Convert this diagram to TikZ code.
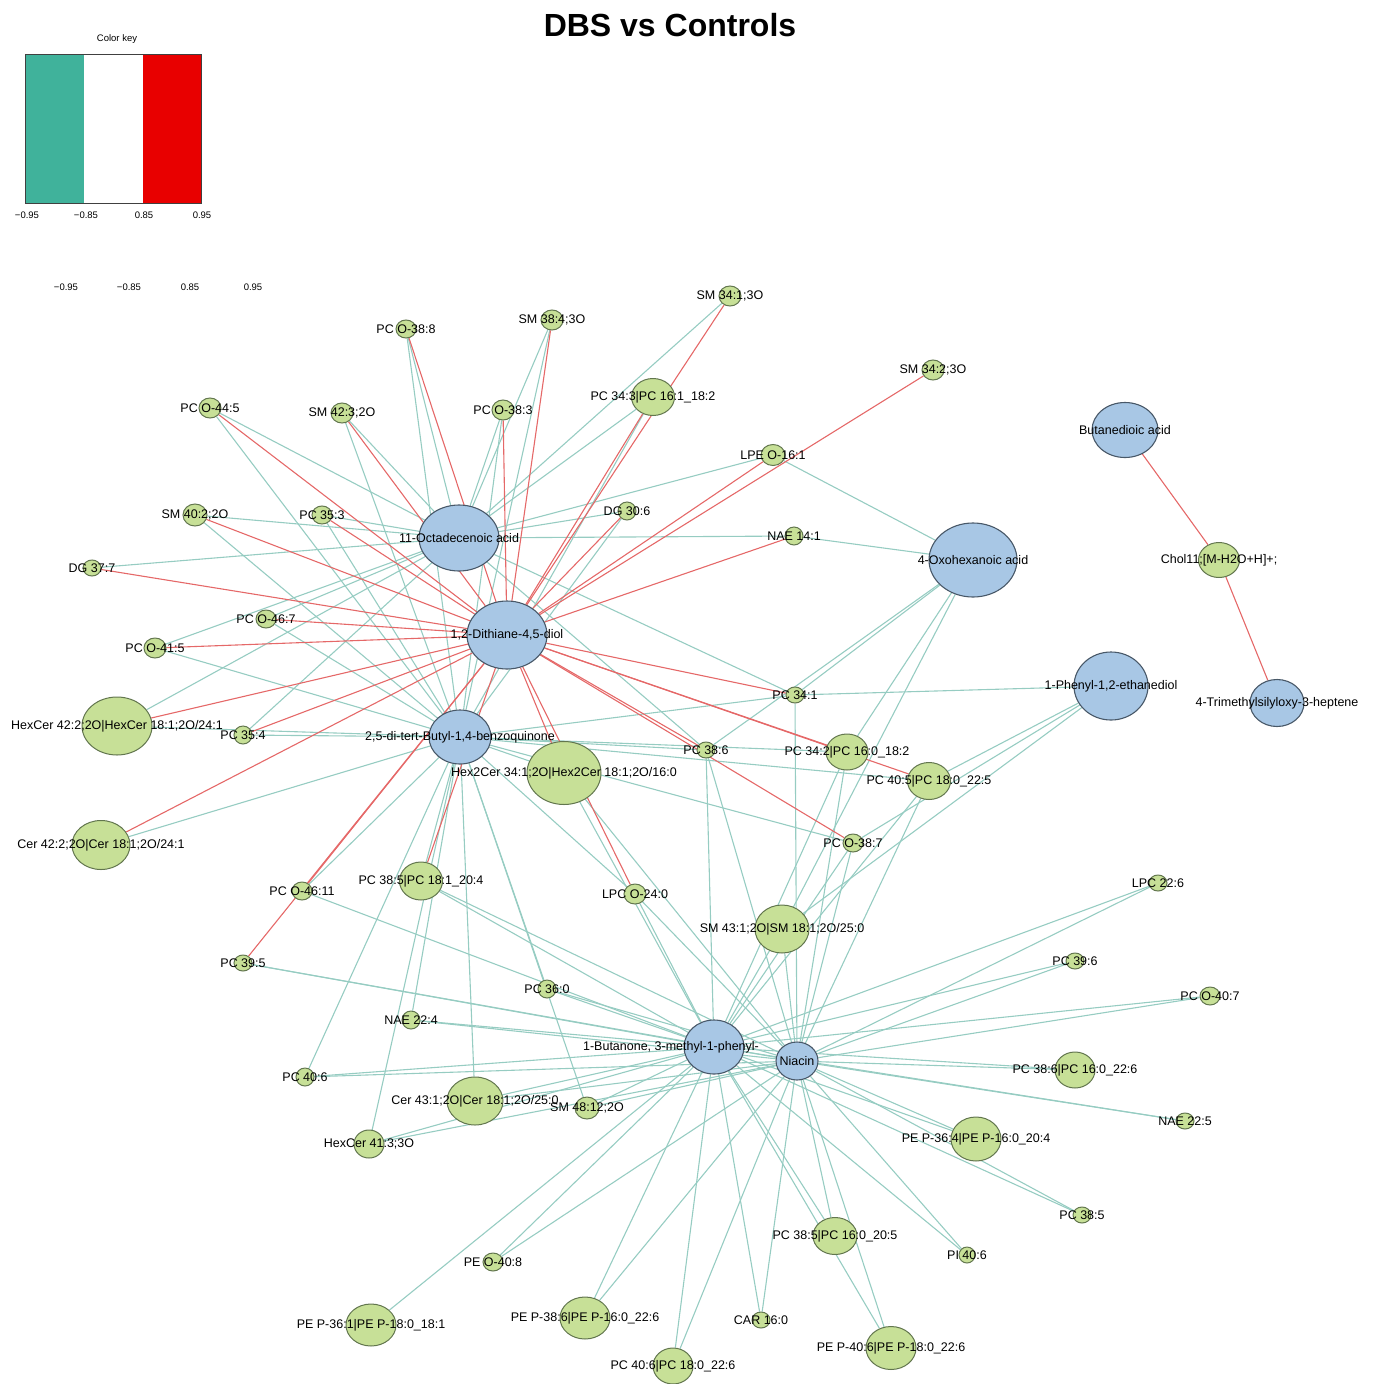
\documentclass[tikz,border=0pt]{standalone}
\usepackage{fontspec}
\setmainfont{Liberation Sans}
\usetikzlibrary{shapes.geometric}
\definecolor{metfill}{RGB}{168,199,229}
\definecolor{metline}{RGB}{72,88,104}
\definecolor{lipfill}{RGB}{199,224,151}
\definecolor{lipline}{RGB}{98,118,78}
\definecolor{edgeteal}{RGB}{150,204,194}
\definecolor{edgered}{RGB}{229,104,104}
\definecolor{keyteal}{RGB}{64,178,155}
\definecolor{keyred}{RGB}{232,0,0}
\pgfdeclarelayer{bg}
\pgfsetlayers{bg,main}

\begin{document}
\begin{tikzpicture}[x=1pt, y=-1pt,
  met/.style={ellipse, draw=metline, fill=metfill, line width=1.1pt, inner sep=0pt},
  lip/.style={ellipse, draw=lipline, fill=lipfill, line width=1pt, inner sep=0pt},
  wh/.style 2 args={minimum width=#1pt, minimum height=#2pt},
  tx/.style={font=\fontsize{12.5}{13}\selectfont, inner sep=0pt},
  keytx/.style={font=\fontsize{9.5}{11}\selectfont, inner sep=0pt},
  neglink/.style={draw=edgeteal, line width=1.1pt},
  poslink/.style={draw=edgered, line width=1.1pt}]
\useasboundingbox (0,0) rectangle (1373,1384);

% title and colour key
\node[font=\bfseries\fontsize{32}{36}\selectfont] (title) at (670,25) {DBS vs Controls};
\node[keytx] (keyname) at (117,39) {Color key};
\fill[keyteal] (25,54) rectangle (84,203);
\fill[keyred] (143,54) rectangle (201,203);
\draw[black!75, line width=1pt] (25,54) rectangle (201,203);
\node[keytx] (k1) at (27,215) {−0.95};
\node[keytx] (k2) at (86,215) {−0.85};
\node[keytx] (k3) at (144,215) {0.85};
\node[keytx] (k4) at (202,215) {0.95};
\node[keytx] (m1) at (66,287) {−0.95};
\node[keytx] (m2) at (129,287) {−0.85};
\node[keytx] (m3) at (190,287) {0.85};
\node[keytx] (m4) at (253,287) {0.95};

% metabolites
\node[met, wh={80}{66}, label={[tx]center:{11-Octadecenoic acid}}] (oa) at (459,538) {};
\node[met, wh={80}{68}, label={[tx]center:{1,2-Dithiane-4,5-diol}}] (dt) at (507,635) {};
\node[met, wh={62}{54}, label={[tx]center:{2,5-di-tert-Butyl-1,4-benzoquinone}}] (bq) at (460,737) {};
\node[met, wh={88}{74}, label={[tx]center:{4-Oxohexanoic acid}}] (ox) at (973,560) {};
\node[met, wh={66}{55}, label={[tx]center:{Butanedioic acid}}] (bda) at (1125,430) {};
\node[met, wh={74}{68}, label={[tx]center:{1-Phenyl-1,2-ethanediol}}] (ped) at (1111,686) {};
\node[met, wh={54}{47}, label={[tx]center:{4-Trimethylsilyloxy-3-heptene}}] (tms) at (1277,703) {};
\node[met, wh={60}{54}, label={[tx, xshift=-43pt]center:{1-Butanone, 3-methyl-1-phenyl-}}] (bu) at (714,1047) {};
\node[met, wh={42}{38}, label={[tx]center:{Niacin}}] (nia) at (797,1061) {};

% lipids
\node[lip, wh={22}{20}, label={[tx]center:{SM 34:1;3O}}] (sm341) at (730,296) {};
\node[lip, wh={22}{20}, label={[tx]center:{SM 38:4;3O}}] (sm384) at (552,320) {};
\node[lip, wh={20}{18}, label={[tx]center:{PC O-38:8}}] (pco388) at (406,329) {};
\node[lip, wh={22}{20}, label={[tx]center:{SM 34:2;3O}}] (sm342) at (933,370) {};
\node[lip, wh={43}{37}, label={[tx]center:{PC 34:3|PC 16:1\_18:2}}] (pc343) at (653,397) {};
\node[lip, wh={22}{20}, label={[tx]center:{PC O-44:5}}] (pco445) at (210,408) {};
\node[lip, wh={22}{20}, label={[tx]center:{SM 42:3;2O}}] (sm423) at (342,413) {};
\node[lip, wh={22}{20}, label={[tx]center:{PC O-38:3}}] (pco383) at (503,410) {};
\node[lip, wh={24}{21}, label={[tx]center:{LPE O-16:1}}] (lpe161) at (773,455) {};
\node[lip, wh={24}{22}, label={[tx]center:{SM 40:2;2O}}] (sm402) at (195,515) {};
\node[lip, wh={20}{18}, label={[tx]center:{PC 35:3}}] (pc353) at (322,515) {};
\node[lip, wh={18}{18}, label={[tx]center:{DG 30:6}}] (dg306) at (627,511) {};
\node[lip, wh={18}{18}, label={[tx]center:{NAE 14:1}}] (nae141) at (794,536) {};
\node[lip, wh={18}{16}, label={[tx]center:{DG 37:7}}] (dg377) at (92,568) {};
\node[lip, wh={41}{35}, label={[tx]center:{Chol11;[M-H2O+H]+;}}] (chol) at (1219,560) {};
\node[lip, wh={20}{18}, label={[tx]center:{PC O-46:7}}] (pco467) at (266,619) {};
\node[lip, wh={22}{20}, label={[tx]center:{PC O-41:5}}] (pco415) at (155,648) {};
\node[lip, wh={18}{16}, label={[tx]center:{PC 34:1}}] (pc341) at (795,695) {};
\node[lip, wh={70}{58}, label={[tx]center:{HexCer 42:2;2O|HexCer 18:1;2O/24:1}}] (hexcer42) at (117,726) {};
\node[lip, wh={18}{18}, label={[tx]center:{PC 35:4}}] (pc354) at (243,735) {};
\node[lip, wh={74}{63}, label={[tx]center:{Hex2Cer 34:1;2O|Hex2Cer 18:1;2O/16:0}}] (hex2cer) at (564,773) {};
\node[lip, wh={18}{16}, label={[tx]center:{PC 38:6}}] (pc386) at (706,750) {};
\node[lip, wh={42}{36}, label={[tx]center:{PC 34:2|PC 16:0\_18:2}}] (pc342) at (847,752) {};
\node[lip, wh={43}{37}, label={[tx]center:{PC 40:5|PC 18:0\_22:5}}] (pc405) at (929,781) {};
\node[lip, wh={58}{49}, label={[tx]center:{Cer 42:2;2O|Cer 18:1;2O/24:1}}] (cer42) at (101,845) {};
\node[lip, wh={20}{18}, label={[tx]center:{PC O-38:7}}] (pco387) at (853,843) {};
\node[lip, wh={20}{18}, label={[tx]center:{PC O-46:11}}] (pco4611) at (302,891) {};
\node[lip, wh={43}{38}, label={[tx]center:{PC 38:5|PC 18:1\_20:4}}] (pc385a) at (421,881) {};
\node[lip, wh={22}{20}, label={[tx]center:{LPC O-24:0}}] (lpco240) at (635,894) {};
\node[lip, wh={54}{48}, label={[tx]center:{SM 43:1;2O|SM 18:1;2O/25:0}}] (sm431) at (782,929) {};
\node[lip, wh={18}{16}, label={[tx]center:{LPC 22:6}}] (lpc226) at (1158,883) {};
\node[lip, wh={18}{16}, label={[tx]center:{PC 39:5}}] (pc395) at (243,963) {};
\node[lip, wh={18}{18}, label={[tx]center:{PC 36:0}}] (pc360) at (547,989) {};
\node[lip, wh={18}{16}, label={[tx]center:{PC 39:6}}] (pc396) at (1075,961) {};
\node[lip, wh={20}{18}, label={[tx]center:{PC O-40:7}}] (pco407) at (1210,996) {};
\node[lip, wh={18}{18}, label={[tx]center:{NAE 22:4}}] (nae224) at (411,1020) {};
\node[lip, wh={18}{18}, label={[tx]center:{PC 40:6}}] (pc406) at (305,1077) {};
\node[lip, wh={56}{48}, label={[tx]center:{Cer 43:1;2O|Cer 18:1;2O/25:0}}] (cer43) at (475,1101) {};
\node[lip, wh={24}{22}, label={[tx]center:{SM 48:12;2O}}] (sm4812) at (587,1108) {};
\node[lip, wh={40}{36}, label={[tx]center:{PC 38:6|PC 16:0\_22:6}}] (pc386b) at (1075,1070) {};
\node[lip, wh={18}{16}, label={[tx]center:{NAE 22:5}}] (nae225) at (1185,1121) {};
\node[lip, wh={30}{28}, label={[tx]center:{HexCer 41:3;3O}}] (hexcer41) at (369,1144) {};
\node[lip, wh={50}{44}, label={[tx]center:{PE P-36:4|PE P-16:0\_20:4}}] (pep364) at (976,1139) {};
\node[lip, wh={18}{16}, label={[tx]center:{PC 38:5}}] (pc385) at (1082,1215) {};
\node[lip, wh={44}{37}, label={[tx]center:{PC 38:5|PC 16:0\_20:5}}] (pc385b) at (835,1236) {};
\node[lip, wh={16}{16}, label={[tx]center:{PI 40:6}}] (pi406) at (967,1255) {};
\node[lip, wh={20}{18}, label={[tx]center:{PE O-40:8}}] (peo408) at (493,1262) {};
\node[lip, wh={50}{42}, label={[tx]center:{PE P-36:1|PE P-18:0\_18:1}}] (pep361) at (371,1325) {};
\node[lip, wh={50}{42}, label={[tx]center:{PE P-38:6|PE P-16:0\_22:6}}] (pep386) at (585,1318) {};
\node[lip, wh={18}{16}, label={[tx]center:{CAR 16:0}}] (car160) at (761,1320) {};
\node[lip, wh={40}{36}, label={[tx]center:{PC 40:6|PC 18:0\_22:6}}] (pc406b) at (673,1366) {};
\node[lip, wh={50}{43}, label={[tx]center:{PE P-40:6|PE P-18:0\_22:6}}] (pep406) at (891,1348) {};

\begin{pgfonlayer}{bg}
% negative correlations
\foreach \g in {sm341,sm384,pco388,pc343,pco445,sm423,pco383,lpe161,sm402,pc353,dg306,nae141,dg377,pco467,pco415,hexcer42,pc354,pc341,pc386}
  \draw[neglink] (oa) -- (\g);
\foreach \g in {sm384,pco388,sm423,pco445,sm402,pc353,pco383,pc343,dg306,pco467,pco415,hexcer42,pc354,cer42,pco4611,pc385a,pc360,nae224,pc406,cer43,hexcer41,sm4812,hex2cer,pc386,pc342,pc405,pco387,pc341,lpco240}
  \draw[neglink] (bq) -- (\g);
\foreach \g in {lpe161,nae141,pc341,pc386,pc342,sm431}
  \draw[neglink] (ox) -- (\g);
\foreach \g in {pc341,pc405,pco387,sm431}
  \draw[neglink] (ped) -- (\g);
\foreach \g in {pc395,pco4611,pc385a,nae224,pc406,cer43,hexcer41,sm4812,pc360,lpco240,hex2cer,pc386,pc342,pc405,pco387,sm431,lpc226,pc396,pco407,pc386b,nae225,pep364,pc385,pi406,pc385b,pep406,car160,pc406b,pep386,peo408,pep361}
  \draw[neglink] (bu) -- (\g);
\foreach \g in {pc395,pc385a,nae224,pc406,cer43,hexcer41,sm4812,pc360,lpco240,hex2cer,pc386,pc341,pc342,pc405,pco387,sm431,lpc226,pc396,pco407,pc386b,nae225,pep364,pc385,pi406,pc385b,pep406,car160,pc406b,pep386,peo408}
  \draw[neglink] (nia) -- (\g);
% positive correlations
\foreach \g in {pco388,sm384,sm341,pc343,sm342,lpe161,dg306,nae141,pco383,sm423,pco445,sm402,pc353,dg377,pco467,pco415,hexcer42,pc354,cer42,pco4611,pc395,pc385a,hex2cer,lpco240,pc386,pco387,pc342,pc405,pc341}
  \draw[poslink] (dt) -- (\g);
\draw[poslink] (bda) -- (chol);
\draw[poslink] (chol) -- (tms);
\end{pgfonlayer}
\end{tikzpicture}
\end{document}
